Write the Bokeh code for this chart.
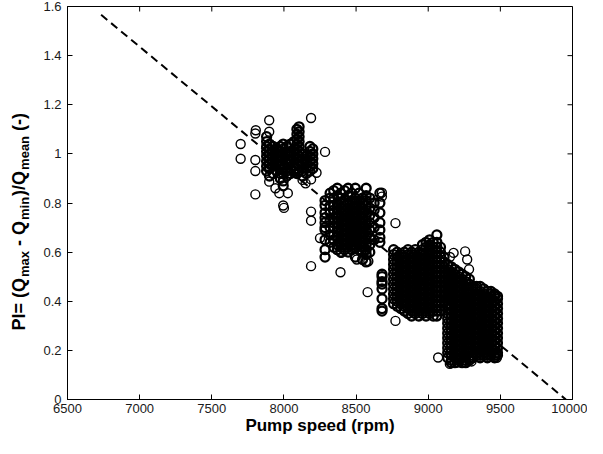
import numpy as np
from bokeh.plotting import figure
from bokeh.models import FixedTicker, Range1d, ColumnDataSource
from bokeh.layouts import row
from bokeh.core.properties import value
from bokeh.embed import file_html
from bokeh.resources import INLINE

# ---------------- axis ticks ----------------
x_ticks = [6500, 7000, 7500, 8000, 8500, 9000, 9500, 10000]
x_tick_labels = ["6500", "7000", "7500", "8000", "8500", "9000", "9500", "10000"]
y_ticks = [0, 0.2, 0.4, 0.6, 0.8, 1, 1.2, 1.4, 1.6]
y_tick_labels = ["0", "0.2", "0.4", "0.6", "0.8", "1", "1.2", "1.4", "1.6"]

# ---------------- fitted (dashed) line ----------------
fit_speed = [6733, 9954]
fit_pi = [1.566, 0.0]

# ---------------- cluster around 8000 rpm ----------------
speeds_a = [7880, 7900, 7925, 7950, 7975, 7995, 8020, 8045, 8070, 8090, 8105, 8130, 8155, 8180, 8200]
pi_a = [
    [0.93, 0.95, 0.97, 0.99, 1.01, 1.03, 1.05, 1.07],
    [0.91, 0.94, 0.96, 0.98, 1.00, 1.02, 1.04],
    [0.92, 0.95, 0.97, 0.99, 1.01, 1.03],
    [0.93, 0.96, 0.98, 1.00, 1.02],
    [0.90, 0.92, 0.95, 0.97, 0.99, 1.01, 1.03],
    [0.87, 0.89, 0.92, 0.94, 0.96, 0.98, 1.00, 1.02, 1.04],
    [0.91, 0.93, 0.96, 0.98, 1.00, 1.03],
    [0.92, 0.94, 0.97, 0.99, 1.01, 1.04],
    [0.93, 0.95, 0.98, 1.00, 1.02, 1.05],
    [0.92, 0.94, 0.96, 0.98, 1.00, 1.02, 1.04, 1.06, 1.08, 1.10],
    [0.93, 0.95, 0.97, 0.99, 1.01, 1.03, 1.05, 1.07, 1.09, 1.11],
    [0.91, 0.93, 0.96, 0.98, 1.00],
    [0.92, 0.94, 0.97, 0.99],
    [0.93, 0.95, 0.97, 0.99, 1.01, 1.03],
    [0.94, 0.96, 0.98, 1.00, 1.02],
]
out_speed_a = [7700, 7700, 7802, 7802, 7802, 7802, 7805, 7898, 7898, 7898, 7941, 7995, 8000, 8027,
               7968, 8188, 8285, 8226, 8188, 8129, 8150]
out_pi_a = [1.04, 0.98, 0.975, 0.93, 0.835, 1.083, 1.096, 1.137, 1.09, 0.887, 0.86, 0.79, 0.78, 0.84,
            0.84, 1.146, 1.008, 0.923, 0.896, 0.894, 0.88]

# ---------------- cluster around 8500 rpm ----------------
speeds_b = [8285, 8320, 8345, 8370, 8395, 8420, 8445, 8470, 8495, 8520, 8545, 8570, 8595, 8625, 8665]
pi_b = [
    [0.58, 0.61, 0.65, 0.69, 0.70, 0.72, 0.74, 0.76, 0.79, 0.81],
    [0.64, 0.67, 0.70, 0.73, 0.76, 0.79, 0.82, 0.84],
    [0.62, 0.65, 0.67, 0.70, 0.72, 0.74, 0.77, 0.79, 0.82, 0.85],
    [0.61, 0.63, 0.66, 0.68, 0.70, 0.72, 0.74, 0.76, 0.78, 0.80, 0.83, 0.86],
    [0.60, 0.62, 0.64, 0.66, 0.68, 0.70, 0.72, 0.74, 0.76, 0.78, 0.80, 0.82, 0.84],
    [0.61, 0.63, 0.65, 0.67, 0.69, 0.71, 0.73, 0.75, 0.77, 0.79, 0.81, 0.85],
    [0.60, 0.62, 0.64, 0.66, 0.68, 0.70, 0.72, 0.74, 0.76, 0.78, 0.80, 0.83, 0.86],
    [0.61, 0.63, 0.65, 0.67, 0.69, 0.71, 0.73, 0.75, 0.77, 0.79, 0.81, 0.84],
    [0.58, 0.62, 0.64, 0.66, 0.68, 0.70, 0.72, 0.74, 0.76, 0.78, 0.80, 0.82, 0.86],
    [0.61, 0.63, 0.65, 0.67, 0.69, 0.71, 0.73, 0.75, 0.77, 0.79, 0.81, 0.84],
    [0.57, 0.60, 0.62, 0.64, 0.66, 0.68, 0.70, 0.72, 0.74, 0.76, 0.78, 0.80, 0.82],
    [0.56, 0.59, 0.61, 0.63, 0.65, 0.67, 0.69, 0.71, 0.73, 0.75, 0.77, 0.79, 0.81, 0.83, 0.86],
    [0.60, 0.63, 0.66, 0.69, 0.72, 0.75, 0.78, 0.82],
    [0.65, 0.70, 0.74, 0.77, 0.80],
    [0.64, 0.66, 0.69, 0.72, 0.76, 0.80, 0.84],
]
out_speed_b = [8188, 8188, 8188, 8250, 8392, 8580, 8773, 8679, 8679, 8585, 8559, 8478, 8505, 8397]
out_pi_b = [0.728, 0.765, 0.543, 0.657, 0.518, 0.437, 0.718, 0.842, 0.826, 0.563, 0.61, 0.617, 0.57, 0.597]

# ---------------- cluster around 8900 rpm ----------------
speeds_c = [8680, 8760, 8785, 8810, 8835, 8860, 8885, 8910, 8935, 8960, 8985, 9010, 9035, 9060, 9085, 9110]
pi_c = [
    [0.36, 0.37, 0.41, 0.45, 0.47, 0.48, 0.50, 0.51],
    [0.39, 0.41, 0.43, 0.45, 0.47, 0.49, 0.51, 0.53, 0.55, 0.57, 0.59, 0.61],
    [0.38, 0.40, 0.42, 0.44, 0.46, 0.48, 0.50, 0.52, 0.54, 0.56, 0.58, 0.60],
    [0.37, 0.39, 0.41, 0.43, 0.45, 0.47, 0.49, 0.51, 0.53, 0.55, 0.57, 0.59],
    [0.36, 0.38, 0.40, 0.42, 0.44, 0.46, 0.48, 0.50, 0.52, 0.54, 0.56, 0.58, 0.60],
    [0.35, 0.37, 0.39, 0.41, 0.43, 0.45, 0.47, 0.49, 0.51, 0.53, 0.55, 0.57, 0.59, 0.61],
    [0.34, 0.36, 0.38, 0.40, 0.42, 0.44, 0.46, 0.48, 0.50, 0.52, 0.54, 0.56, 0.58, 0.60],
    [0.35, 0.37, 0.39, 0.41, 0.43, 0.45, 0.47, 0.49, 0.51, 0.53, 0.55, 0.57, 0.59, 0.61],
    [0.34, 0.36, 0.38, 0.40, 0.42, 0.44, 0.46, 0.48, 0.50, 0.52, 0.54, 0.56, 0.58, 0.60],
    [0.35, 0.37, 0.39, 0.41, 0.43, 0.45, 0.47, 0.49, 0.51, 0.53, 0.55, 0.57, 0.59, 0.61, 0.63],
    [0.34, 0.36, 0.38, 0.40, 0.42, 0.44, 0.46, 0.48, 0.50, 0.52, 0.54, 0.56, 0.58, 0.60, 0.62, 0.64],
    [0.35, 0.37, 0.39, 0.41, 0.43, 0.45, 0.47, 0.49, 0.51, 0.53, 0.55, 0.57, 0.59, 0.61, 0.63, 0.65],
    [0.34, 0.36, 0.38, 0.40, 0.42, 0.44, 0.46, 0.48, 0.50, 0.52, 0.54, 0.56, 0.58, 0.60, 0.62, 0.64],
    [0.34, 0.36, 0.38, 0.40, 0.42, 0.44, 0.46, 0.48, 0.50, 0.52, 0.54, 0.56, 0.58, 0.60, 0.62, 0.64, 0.67],
    [0.36, 0.38, 0.40, 0.42, 0.44, 0.46, 0.48, 0.50, 0.52, 0.54, 0.56, 0.58, 0.60, 0.62],
    [0.40, 0.42, 0.44, 0.46, 0.48, 0.50, 0.52, 0.54, 0.56, 0.58],
]
out_speed_c = [8773, 9069, 9176, 9256, 9270, 9283, 9150]
out_pi_c = [0.32, 0.171, 0.597, 0.603, 0.57, 0.53, 0.58]

# ---------------- cluster around 9300 rpm ----------------
speeds_d = [9135, 9160, 9185, 9210, 9235, 9260, 9285, 9310, 9335, 9360, 9385, 9410, 9435, 9460, 9480]
pi_d = [
    [0.17, 0.19, 0.21, 0.23, 0.25, 0.27, 0.29, 0.31, 0.33, 0.35, 0.37, 0.39, 0.41, 0.43, 0.45, 0.47, 0.49, 0.51, 0.53, 0.55],
    [0.15, 0.16, 0.18, 0.20, 0.22, 0.24, 0.26, 0.28, 0.30, 0.32, 0.34, 0.36, 0.38, 0.40, 0.42, 0.44, 0.46, 0.48, 0.50, 0.52, 0.54],
    [0.15, 0.17, 0.19, 0.21, 0.23, 0.25, 0.27, 0.29, 0.31, 0.33, 0.35, 0.37, 0.39, 0.41, 0.43, 0.45, 0.47, 0.49, 0.51, 0.53],
    [0.16, 0.18, 0.20, 0.22, 0.24, 0.26, 0.28, 0.30, 0.32, 0.34, 0.36, 0.38, 0.40, 0.42, 0.44, 0.46, 0.48, 0.50, 0.52],
    [0.15, 0.17, 0.19, 0.21, 0.23, 0.25, 0.27, 0.29, 0.31, 0.33, 0.35, 0.37, 0.39, 0.41, 0.43, 0.45, 0.47, 0.49, 0.51],
    [0.15, 0.16, 0.18, 0.20, 0.22, 0.24, 0.26, 0.28, 0.30, 0.32, 0.34, 0.36, 0.38, 0.40, 0.42, 0.44, 0.46, 0.48, 0.50],
    [0.16, 0.17, 0.19, 0.21, 0.23, 0.25, 0.27, 0.29, 0.31, 0.33, 0.35, 0.37, 0.39, 0.41, 0.43, 0.45, 0.47, 0.49],
    [0.17, 0.18, 0.20, 0.22, 0.24, 0.26, 0.28, 0.30, 0.32, 0.34, 0.36, 0.38, 0.40, 0.42, 0.44, 0.46],
    [0.18, 0.19, 0.21, 0.23, 0.25, 0.27, 0.29, 0.31, 0.33, 0.35, 0.37, 0.39, 0.41, 0.43, 0.45, 0.46],
    [0.17, 0.18, 0.20, 0.22, 0.24, 0.26, 0.28, 0.30, 0.32, 0.34, 0.36, 0.38, 0.40, 0.42, 0.44, 0.46],
    [0.18, 0.19, 0.21, 0.23, 0.25, 0.27, 0.29, 0.31, 0.33, 0.35, 0.37, 0.39, 0.41, 0.43, 0.45],
    [0.17, 0.18, 0.20, 0.22, 0.24, 0.26, 0.28, 0.30, 0.32, 0.34, 0.36, 0.38, 0.40, 0.42, 0.44],
    [0.18, 0.19, 0.21, 0.23, 0.25, 0.27, 0.29, 0.31, 0.33, 0.35, 0.37, 0.39, 0.41, 0.43, 0.44],
    [0.17, 0.18, 0.20, 0.22, 0.24, 0.26, 0.28, 0.30, 0.32, 0.34, 0.36, 0.38, 0.40, 0.42, 0.43],
    [0.18, 0.19, 0.21, 0.23, 0.25, 0.27, 0.29, 0.31, 0.33, 0.35, 0.37, 0.39, 0.41, 0.42],
]
out_speed_d = [9150, 9200, 9250, 9300, 9350, 9470, 9475, 9240]
out_pi_d = [0.145, 0.15, 0.15, 0.155, 0.19, 0.19, 0.17, 0.16]

# ---------------- y-axis title pieces ----------------
ylabel_main = ["PI= (Q", "- Q", ")/Q", "(-)"]
ylabel_subs = ["max", "min", "mean"]

# ---------------- assemble ----------------
dx, dy = [], []
for spds, cols in [(speeds_a, pi_a), (speeds_b, pi_b), (speeds_c, pi_c), (speeds_d, pi_d)]:
    for sp, col in zip(spds, cols):
        dx += [sp] * len(col)
        dy += col
ox, oy = [], []
for sx, sy in [(out_speed_a, out_pi_a), (out_speed_b, out_pi_b), (out_speed_c, out_pi_c), (out_speed_d, out_pi_d)]:
    ox += sx
    oy += sy
dense_src = ColumnDataSource(data=dict(speed=dx, pi=dy))
out_src = ColumnDataSource(data=dict(speed=ox, pi=oy))

H = 438
LEFT_W = 37
FRAME_TOP = 6
FRAME_H = 393

p = figure(frame_width=505, frame_height=FRAME_H,
           x_range=Range1d(6500, 10000), y_range=Range1d(0, 1.6),
           output_backend="svg", toolbar_location=None,
           min_border_left=30, min_border_right=15, min_border_top=FRAME_TOP,
           min_border_bottom=H - FRAME_TOP - FRAME_H)
p.xgrid.grid_line_color = None
p.ygrid.grid_line_color = None
p.outline_line_color = "black"
p.outline_line_width = 1


def style_axis(ax, ticks, labels, standoff):
    ax.ticker = FixedTicker(ticks=ticks)
    ax.major_label_overrides = dict(zip(ticks, labels))
    ax.minor_tick_line_color = None
    ax.major_tick_in = 5
    ax.major_tick_out = 0
    ax.major_tick_line_color = "black"
    ax.axis_line_color = "black"
    ax.major_label_text_font = "Liberation Sans"
    ax.major_label_text_font_size = "13px"
    ax.major_label_text_color = "#1a1a1a"
    ax.major_label_standoff = standoff


style_axis(p.xaxis[0], x_ticks, x_tick_labels, 4)
style_axis(p.yaxis[0], y_ticks, y_tick_labels, 6)
p.xaxis[0].axis_label = "Pump speed (rpm)"
p.xaxis[0].axis_label_text_font = "Liberation Sans"
p.xaxis[0].axis_label_text_font_style = "bold"
p.xaxis[0].axis_label_text_font_size = "17px"
p.xaxis[0].axis_label_text_color = "black"
p.xaxis[0].axis_label_standoff = 0

# mirrored inward ticks on the top and right edges (box style)
tick_len_y = 5 * 1.6 / FRAME_H
tick_len_x = 5 * 3500 / 505
p.segment(x0=x_ticks, y0=[1.6] * len(x_ticks), x1=x_ticks, y1=[1.6 - tick_len_y] * len(x_ticks),
          line_color="black", line_width=1)
p.segment(x0=[10000] * len(y_ticks), y0=y_ticks, x1=[10000 - tick_len_x] * len(y_ticks), y1=y_ticks,
          line_color="black", line_width=1)

p.line(fit_speed, fit_pi, line_color="black", line_width=2, line_dash="8 5")
p.scatter("speed", "pi", source=dense_src, marker="circle", size=9,
          fill_color=None, line_color="black", line_width=2.3)
p.scatter("speed", "pi", source=out_src, marker="circle", size=9,
          fill_color=None, line_color="black", line_width=1.4)

# ---------------- left strip carrying the rotated y-axis title ----------------
t = figure(frame_width=LEFT_W, frame_height=H, x_range=Range1d(0, LEFT_W), y_range=Range1d(0, H),
           output_backend="svg", toolbar_location=None, min_border=0,
           x_axis_location=None, y_axis_location=None)
t.xgrid.grid_line_color = None
t.ygrid.grid_line_color = None
t.outline_line_color = None

# positions (pixels inside the strip, from its bottom) of each piece, reading upward
main_x = [18, 18, 18, 18]
main_y = [114, 198.5, 248.6, 313.6]
sub_x = [23.5, 23.5, 23.5]
sub_y = [167.5, 224.5, 274.6]
t.text(x=main_x, y=main_y, text=ylabel_main, angle=np.pi / 2, text_align="left",
       text_baseline="alphabetic", text_font=value("Liberation Sans"), text_font_style="bold",
       text_font_size="18px", text_color="black")
t.text(x=sub_x, y=sub_y, text=ylabel_subs, angle=np.pi / 2, text_align="left",
       text_baseline="alphabetic", text_font=value("Liberation Sans"), text_font_style="bold",
       text_font_size="13px", text_color="black")

layout = row(t, p, spacing=0)
open("out.html", "w").write(file_html(layout, INLINE))
